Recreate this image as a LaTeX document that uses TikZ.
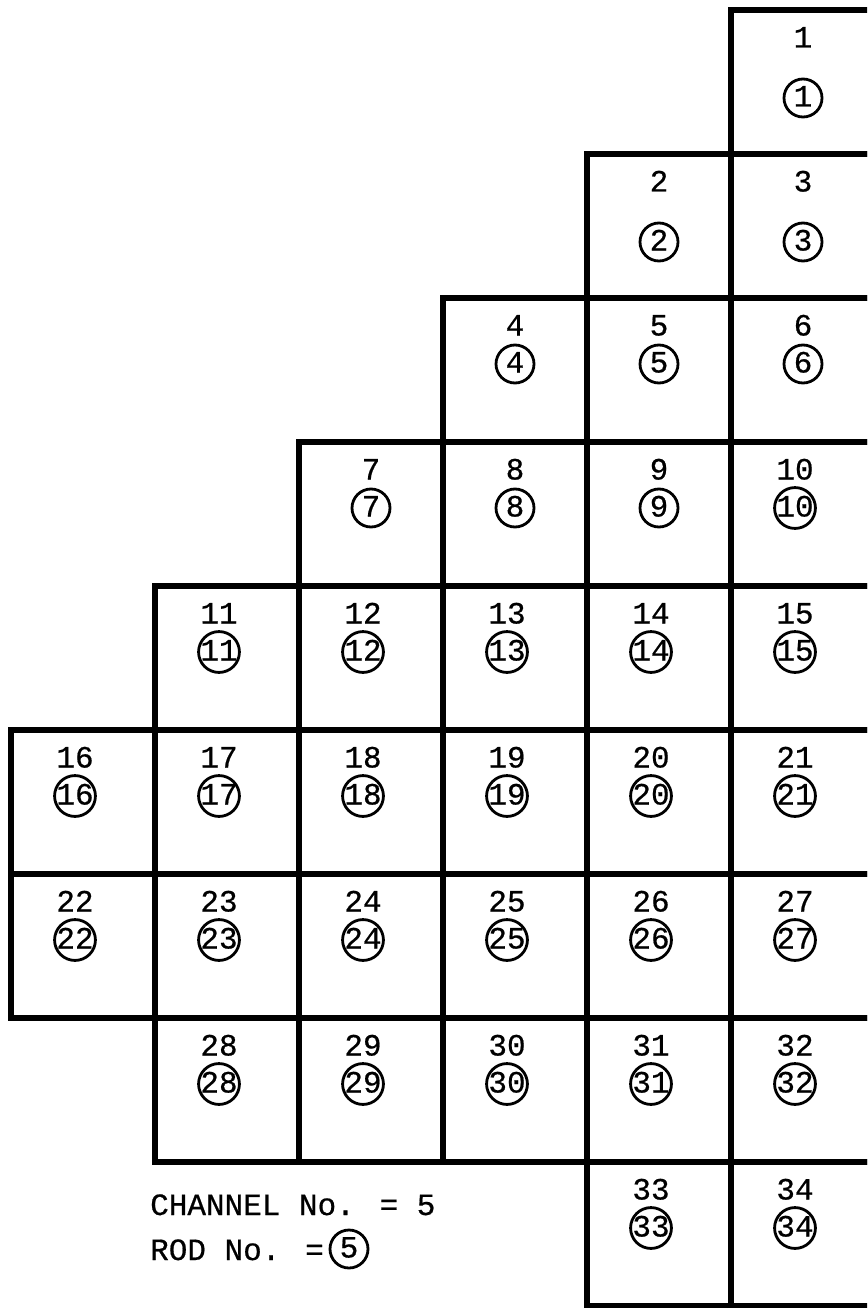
\documentclass[tikz,border=0pt]{standalone}
\usepackage{fontspec}
\setmainfont{Liberation Mono}[UprightFeatures={FakeBold=0.6}]
\begin{document}
\begin{tikzpicture}[x=1pt,y=-1pt,
  cellbox/.style={draw,line width=5.6pt,line join=miter},
  chlabel/.style={inner sep=0pt,text height=17pt,text depth=0pt,anchor=center,font=\fontsize{31}{31}\selectfont},
  rodlabel/.style={circle,draw,line width=2.8pt,minimum size=38pt,inner sep=0pt,text height=17pt,text depth=0pt,font=\fontsize{31}{31}\selectfont},
  keytext/.style={anchor=base west,inner sep=0pt,font=\fontsize{31}{31}\selectfont}]
\useasboundingbox (0,0) rectangle (867,1308);
\clip (0,0) rectangle (867,1308);
\foreach \n/\c/\r in {1/5/0,
  2/4/1,3/5/1,
  4/3/2,5/4/2,6/5/2,
  7/2/3,8/3/3,9/4/3,10/5/3,
  11/1/4,12/2/4,13/3/4,14/4/4,15/5/4,
  16/0/5,17/1/5,18/2/5,19/3/5,20/4/5,21/5/5,
  22/0/6,23/1/6,24/2/6,25/3/6,26/4/6,27/5/6,
  28/1/7,29/2/7,30/3/7,31/4/7,32/5/7,
  33/4/8,34/5/8}{
  \pgfmathsetmacro\xl{11+144*\c}
  \pgfmathsetmacro\yt{10+144*\r}
  \pgfmathsetmacro\off{ifthenelse(\n>9,-8,0)}
  \pgfmathsetmacro\cy{ifthenelse(\r<2,88,66)}
  \draw[cellbox] (\xl,\yt) rectangle ++(144,144);
  \node[chlabel] (ch\n) at (\xl+72+\off,\yt+29) {\n};
  \node[rodlabel] (rod\n) at (\xl+72+\off,\yt+\cy) {\n};
}
\node[keytext] (chkey) at (150,1215) {CHANNEL No. = 5};
\node[keytext] (rodkeytext) at (150,1260) {ROD No. =};
\node[rodlabel] (rodkey) at (349,1249) {5};
\end{tikzpicture}
\end{document}
